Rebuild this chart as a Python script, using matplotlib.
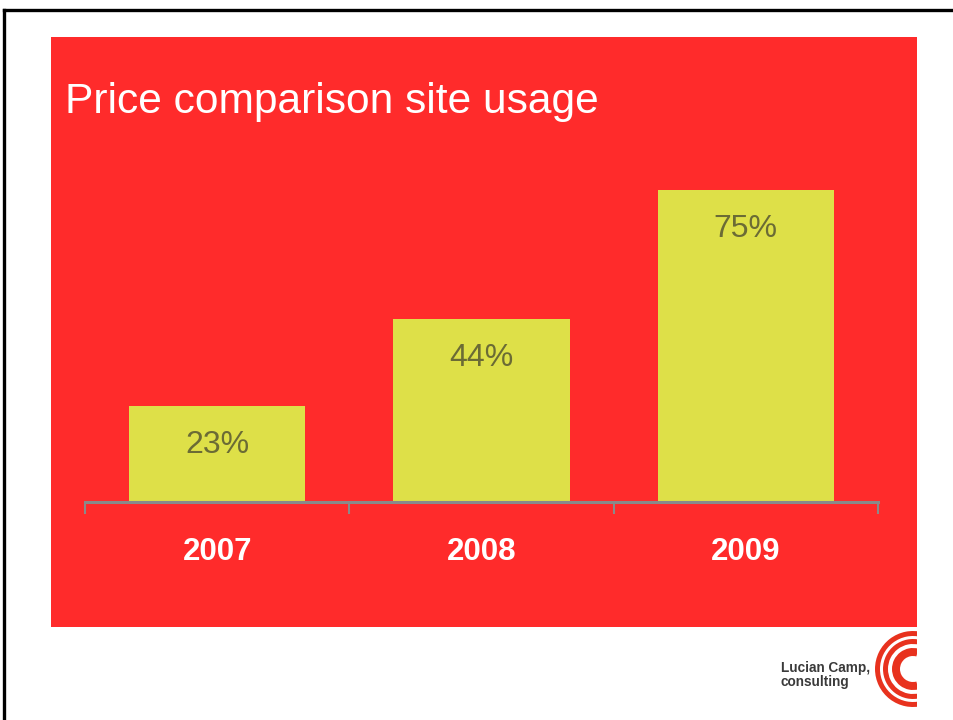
import matplotlib
matplotlib.use("Agg")
import matplotlib.pyplot as plt
from matplotlib.patches import Rectangle, Wedge
from matplotlib.lines import Line2D

# data
years = ["2007", "2008", "2009"]
usage = [23, 44, 75]
title = "Price comparison site usage"

RED = "#ff2b2b"
BAR = "#dee048"
LABEL = "#6b6b35"
AXIS = "#8a8a8a"

plt.rcParams["font.family"] = ["Liberation Sans", "DejaVu Sans"]

W, H = 954, 720
fig = plt.figure(figsize=(W / 100, H / 100), dpi=100)
fig.patch.set_facecolor("white")


def fx(x):
    return x / W


def fy(y):
    return 1 - y / H


# page frame (top and left edges only are visible)
fig.add_artist(Line2D([fx(4), fx(954)], [fy(9.5), fy(9.5)], color="black", lw=2.4,
                      transform=fig.transFigure))
fig.add_artist(Line2D([fx(4), fx(4)], [fy(9.5), 0], color="black", lw=2.4,
                      transform=fig.transFigure))

# red panel
fig.add_artist(Rectangle((fx(51), fy(627)), (917 - 51) / W, (627 - 37) / H,
                         transform=fig.transFigure, facecolor=RED, edgecolor="none",
                         zorder=0))

fig.text(fx(65), fy(102), title, color="white", fontsize=30.6, va="center", ha="left")

# bar chart
ax = fig.add_axes([fx(85), fy(502), (878 - 85) / W, (502 - 190) / H])
ax.patch.set_visible(False)
x = list(range(len(years)))
ax.bar(x, usage, width=0.667, color=BAR, edgecolor="none", zorder=2)
ax.set_xlim(-0.5, len(years) - 0.5)
ax.set_ylim(0, max(usage))

for i, v in zip(x, usage):
    ax.annotate(f"{v}%", (i, v), xytext=(0, -28), textcoords="offset points",
                ha="center", va="center", fontsize=23, color=LABEL)

for s in ["top", "right", "left"]:
    ax.spines[s].set_visible(False)
ax.spines["bottom"].set_color(AXIS)
ax.spines["bottom"].set_linewidth(2.2)
ax.spines["bottom"].set_zorder(3)
ax.set_yticks([])
ax.set_xticks([i - 0.5 for i in range(len(years) + 1)])
ax.set_xticklabels([])
ax.tick_params(axis="x", which="major", length=8.5, width=1.5, color=AXIS, direction="out")
ax.set_xticks(x, minor=True)
ax.set_xticklabels(years, minor=True)
ax.tick_params(axis="x", which="minor", length=0, pad=25.5, labelsize=22.5,
               labelcolor="white")
for t in ax.get_xticklabels(minor=True):
    t.set_fontweight("bold")

# logo
fig.text(fx(781), fy(668), "Lucian Camp,", fontsize=9.8, fontweight="bold",
         color="#3a3a3a", va="center", ha="left")
fig.text(fx(781), fy(682), "consulting", fontsize=9.8, fontweight="bold",
         color="#3a3a3a", va="center", ha="left")

inch = fig.dpi_scale_trans
cx, cy = 913 / 100, (H - 669) / 100
clip = Rectangle((860 / 100, (H - 720) / 100), 57 / 100, 100 / 100, transform=inch)
for r_out, wdt in [(38, 5), (30, 5), (21, 8)]:
    wg = Wedge((cx, cy), r_out / 100, 75, 285, width=wdt / 100,
               facecolor="#e8321e", edgecolor="none", transform=inch)
    fig.add_artist(wg)
    wg.set_clip_path(clip)

fig.savefig("out.png", dpi=100, facecolor="white")
